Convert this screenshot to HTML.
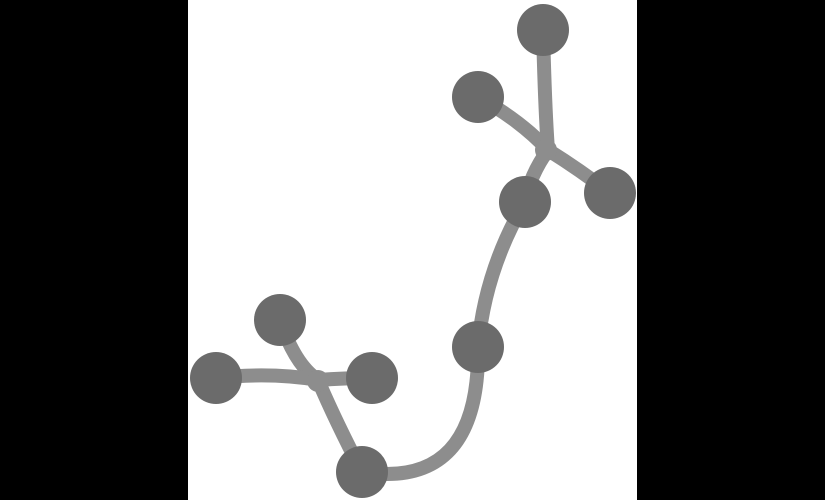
<!DOCTYPE html>
<html>
<head>
<meta charset="utf-8">
<style>
html,body{margin:0;padding:0;background:#000;}
#wrap{width:825px;height:500px;position:relative;overflow:hidden;background:#000;}
svg{position:absolute;left:0;top:0;}
</style>
</head>
<body>
<div id="wrap">
<svg width="825" height="500" viewBox="0 0 825 500">
  <rect x="188" y="0" width="449" height="500" fill="#ffffff"/>
  <g fill="none" stroke="#8d8d8d" stroke-width="14" stroke-linecap="round">
    <path d="M543 30 Q545 110 548 150"/>
    <path d="M478 97 Q520 120 548 150"/>
    <path d="M548 150 Q580 170 610 193"/>
    <path d="M548 150 Q530 175 525 202"/>
    <path d="M525 202 Q485 270 478 347"/>
    <path d="M478 347 Q480 490 362 472"/>
    <path d="M280 320 Q295 365 318 380"/>
    <path d="M216 378 Q270 372 318 380"/>
    <path d="M318 380 Q345 378 372 378"/>
    <path d="M318 380 Q335 420 362 472"/>
  </g>
  <circle cx="546" cy="150" r="11" fill="#8d8d8d"/>
  <circle cx="318" cy="381" r="11" fill="#8d8d8d"/>
  <g fill="#6b6b6b">
    <circle cx="543" cy="30" r="26"/>
    <circle cx="478" cy="97" r="26"/>
    <circle cx="525" cy="202" r="26"/>
    <circle cx="610" cy="193" r="26"/>
    <circle cx="478" cy="347" r="26"/>
    <circle cx="280" cy="320" r="26"/>
    <circle cx="216" cy="378" r="26"/>
    <circle cx="372" cy="378" r="26"/>
    <circle cx="362" cy="472" r="26"/>
  </g>
  <rect x="637" y="0" width="188" height="500" fill="#000"/>
  <rect x="0" y="0" width="188" height="500" fill="#000"/>
</svg>
</div>
</body>
</html>
